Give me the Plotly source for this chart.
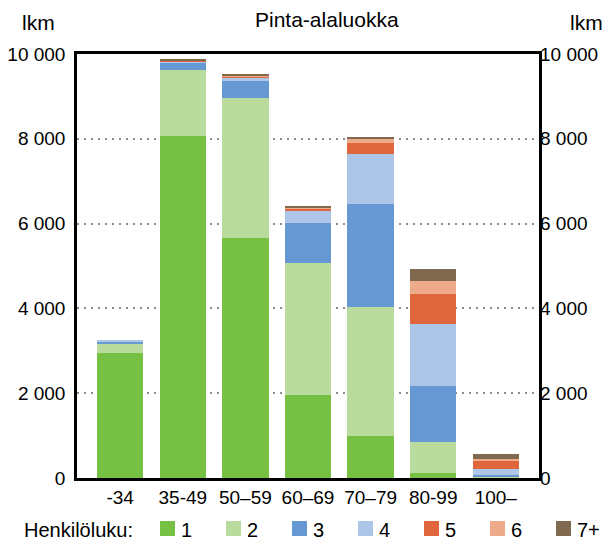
import plotly.graph_objects as go

categories = ["-34", "35-49", "50–59", "60–69", "70–79", "80-99", "100–"]
series_names = ["1", "2", "3", "4", "5", "6", "7+"]
p1 = [2955, 8065, 5650, 1960, 1000, 125, 5]
p2 = [212, 1557, 3312, 3110, 3030, 725, 10]
p3 = [63, 172, 400, 943, 2432, 1320, 65]
p4 = [10, 40, 88, 283, 1179, 1469, 142]
p5 = [0, 10, 25, 71, 259, 701, 172]
p6 = [0, 10, 25, 10, 94, 306, 64]
p7 = [0, 25, 15, 15, 54, 283, 118]
series_values = [p1, p2, p3, p4, p5, p6, p7]
colors = ["#76c043", "#b9dc9e", "#6699d3", "#adc6e8", "#e0663c", "#edab8c", "#7f6a4f"]
y_tickvals = [0, 2000, 4000, 6000, 8000, 10000]
y_ticktext = ["0", "2 000", "4 000", "6 000", "8 000", "10 000"]

FONT = "Liberation Sans"
W, H = 615, 547
L, R, T, B = 77, 76, 54, 69
pw, ph = W - L - R, H - T - B


def px(xp):
    return (xp - L) / pw


def py(yp):
    return 1 - (yp - T) / ph


fig = go.Figure()
for name, vals, col in zip(series_names, series_values, colors):
    fig.add_trace(go.Bar(x=categories, y=vals, name=name, marker=dict(color=col, line=dict(width=0)),
                         width=0.74, showlegend=False))
fig.add_trace(go.Scatter(x=[categories[0]], y=[0], yaxis="y2", mode="markers",
                         marker=dict(opacity=0), showlegend=False, hoverinfo="skip"))

axis_font = dict(family=FONT, size=19, color="black")
annotations = [
    dict(text="Pinta-alaluokka", x=px(327), y=py(19)),
    dict(text="lkm", x=px(38), y=py(22)),
    dict(text="lkm", x=px(586), y=py(22)),
    dict(text="Henkilöluku:", x=px(22), y=py(530), xanchor="left"),
]
shapes = []
legend_x0 = 160
legend_step = 66
for i, (name, col) in enumerate(zip(series_names, colors)):
    x0 = legend_x0 + i * legend_step
    shapes.append(dict(type="rect", xref="paper", yref="paper", x0=px(x0), x1=px(x0 + 15),
                       y0=py(536), y1=py(521), fillcolor=col, line=dict(width=0)))
    annotations.append(dict(text=name, x=px(x0 + 19), y=py(530), xanchor="left"))

for a in annotations:
    a.setdefault("xanchor", "center")
    a.update(xref="paper", yref="paper", yanchor="middle", showarrow=False,
             font=dict(family=FONT, size=21 if a["text"] in ("Pinta-alaluokka", "lkm") else 20,
                       color="black"))

fig.update_layout(
    width=W, height=H,
    margin=dict(l=L, r=R, t=T, b=B, autoexpand=False),
    barmode="stack",
    plot_bgcolor="white", paper_bgcolor="white",
    font=dict(family=FONT, size=19, color="black"),
    xaxis=dict(range=[-0.69, 6.69], showline=True, linecolor="black", linewidth=2.5, mirror=True,
               ticks="", tickfont=axis_font, showgrid=False, automargin=False),
    yaxis=dict(range=[0, 10000], tickvals=y_tickvals, ticktext=y_ticktext, tickfont=axis_font,
               showline=True, linecolor="black", linewidth=2.5, mirror=True,
               showgrid=True, gridcolor="#8c8c8c", gridwidth=1.5, griddash="2px,5px",
               zeroline=False, ticks="", automargin=False, ticklabelstandoff=5),
    yaxis2=dict(range=[0, 10000], tickvals=y_tickvals, ticktext=y_ticktext, tickfont=axis_font,
                overlaying="y", side="right", showgrid=False, zeroline=False, ticks="",
                automargin=False),
    showlegend=False,
    annotations=annotations,
    shapes=shapes,
)
fig.write_html("out.html", config={"displayModeBar": False},
               post_script="document.body.style.margin='0';document.body.style.overflow='hidden';")
